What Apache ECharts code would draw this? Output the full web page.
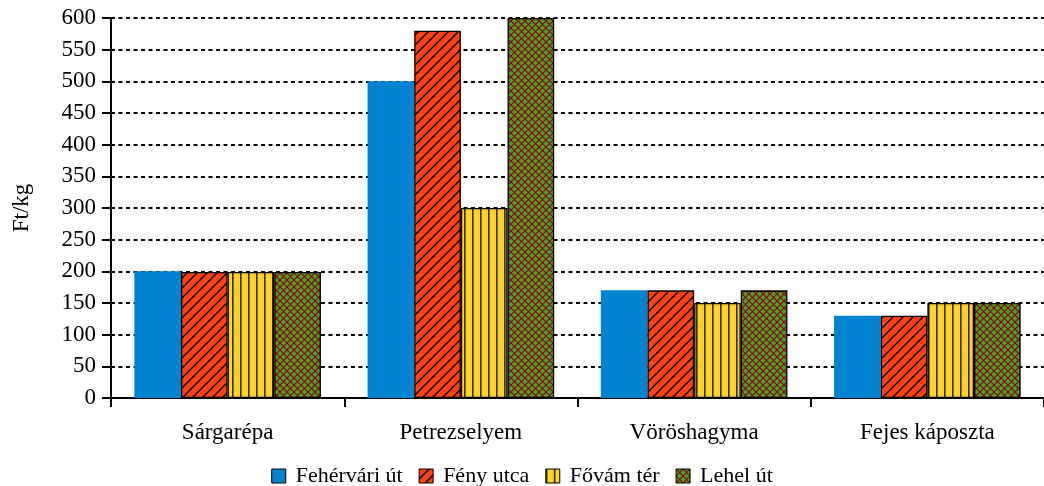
<!DOCTYPE html>
<html><head><meta charset="utf-8">
<script src="https://cdn.jsdelivr.net/npm/echarts@6/dist/echarts.min.js"></script>
<style>html,body{margin:0;padding:0;background:#fff}#c{width:1044px;height:486px}</style>
</head><body><div id="c"></div>
<script>
const categories = ['Sárgarépa', 'Petrezselyem', 'Vöröshagyma', 'Fejes káposzta'];
const seriesNames = ['Fehérvári út', 'Fény utca', 'Fővám tér', 'Lehel út'];
const fehervariUt = [200, 500, 170, 130];
const fenyUtca = [199, 580, 170, 130];
const fovamTer = [199, 300, 150, 150];
const lehelUt = [199, 600, 170, 150];
const yMin = 0, yMax = 600, yStep = 50;
const yTitle = 'Ft/kg';

function tile(w, h, bg, draw) {
  const c = document.createElement('canvas');
  c.width = w; c.height = h;
  const g = c.getContext('2d');
  g.fillStyle = bg; g.fillRect(0, 0, w, h);
  draw(g, w, h);
  return { image: c, repeat: 'repeat' };
}
const bluePat = '#0084D1';
const redPat = tile(10, 10, '#FF420E', (g, w, h) => {
  g.strokeStyle = '#000'; g.lineWidth = 1.4;
  g.beginPath();
  g.moveTo(0, h); g.lineTo(w, 0);
  g.moveTo(-2, 2); g.lineTo(2, -2);
  g.moveTo(w - 2, h + 2); g.lineTo(w + 2, h - 2);
  g.stroke();
});
const yellowPat = tile(8, 4, '#FFD320', (g, w, h) => {
  g.fillStyle = '#2a2a2a'; g.fillRect(0, 0, 1.6, h);
});
const greenPat = tile(7, 7, '#579D1C', (g, w, h) => {
  g.strokeStyle = '#7E0021'; g.lineWidth = 1.1;
  g.beginPath();
  g.moveTo(0, 0); g.lineTo(w, h);
  g.moveTo(0, h); g.lineTo(w, 0);
  g.stroke();
});

const font = 'Liberation Serif';
const legendText = { fontFamily: font, fontSize: 22, color: '#000', padding: [0, 0, 0, 5] };
const mk = (name, data, color, border) => ({
  name, type: 'bar', data,
  barGap: '0%', barCategoryGap: '20%',
  itemStyle: { color, borderColor: border ? '#000' : 'transparent', borderWidth: border ? 1.3 : 0 }
});

const chart = echarts.init(document.getElementById('c'), null, { renderer: 'canvas' });
chart.setOption({
  animation: false,
  backgroundColor: '#fff',
  textStyle: { fontFamily: font, color: '#000' },
  grid: { left: 111, right: 0, top: 18, bottom: 88, containLabel: false, outerBoundsMode: 'none' },
  legend: {
    top: 460, left: 'center', itemWidth: 14, itemHeight: 14, itemGap: 16,
    icon: 'rect',
    itemStyle: { borderColor: '#000', borderWidth: 1 },
    textStyle: legendText,
    data: seriesNames.map(n => ({ name: n, textStyle: legendText }))
  },
  xAxis: {
    type: 'category', data: categories,
    axisLine: { lineStyle: { color: '#000', width: 2 } },
    axisTick: { show: true, length: 9, lineStyle: { color: '#000', width: 2 } },
    axisLabel: { fontFamily: font, fontSize: 23, color: '#000', margin: 23 },
    splitLine: { show: false }
  },
  yAxis: {
    type: 'value', min: yMin, max: yMax, interval: yStep,
    name: yTitle, nameLocation: 'middle', nameGap: 78, nameRotate: 90,
    nameTextStyle: { fontFamily: font, fontSize: 23, color: '#000' },
    axisLine: { show: true, lineStyle: { color: '#000', width: 2 } },
    axisTick: { show: true, length: 9, lineStyle: { color: '#000', width: 2 } },
    axisLabel: { fontFamily: font, fontSize: 23, color: '#000', margin: 15 },
    splitLine: { show: true, lineStyle: { color: '#000', width: 2, type: [4, 3.5] } }
  },
  series: [
    mk(seriesNames[0], fehervariUt, bluePat, false),
    mk(seriesNames[1], fenyUtca, redPat, true),
    mk(seriesNames[2], fovamTer, yellowPat, true),
    mk(seriesNames[3], lehelUt, greenPat, true)
  ]
});
</script></body></html>
